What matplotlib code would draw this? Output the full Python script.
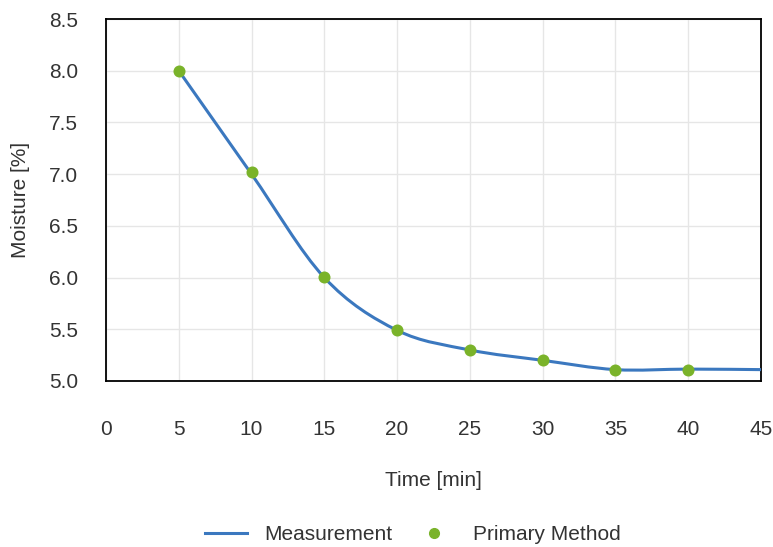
import numpy as np
import matplotlib
matplotlib.use("Agg")
import matplotlib.pyplot as plt
from matplotlib.path import Path
from matplotlib.patches import PathPatch
from matplotlib.lines import Line2D

plt.rcParams['font.family'] = ['Liberation Sans', 'DejaVu Sans']

# measurement curve (every 5 min)
meas_time = [5, 10, 15, 20, 25, 30, 35, 40, 45]
meas_moist = [8.0, 7.0, 6.0, 5.49, 5.30, 5.20, 5.11, 5.115, 5.11]
# primary method reference points
prim_time = [5, 10, 15, 20, 25, 30, 35, 40]
prim_moist = [8.0, 7.02, 6.01, 5.49, 5.30, 5.20, 5.11, 5.11]

blue = '#3B78BF'
green = '#7AB32A'
text_col = '#333333'
fs = 15


def smooth_path(xs, ys, t=0.5):
    # Catmull-Rom style bezier control points, like a spreadsheet "smoothed line"
    x = np.asarray(xs, float)
    y = np.asarray(ys, float)
    verts = [(x[0], y[0])]
    codes = [Path.MOVETO]
    n = len(x)
    for i in range(n - 1):
        x0, y0 = (x[i - 1], y[i - 1]) if i > 0 else (x[i], y[i])
        x3, y3 = (x[i + 2], y[i + 2]) if i + 2 < n else (x[i + 1], y[i + 1])
        c1 = (x[i] + (x[i + 1] - x0) * t / 3, y[i] + (y[i + 1] - y0) * t / 3)
        c2 = (x[i + 1] - (x3 - x[i]) * t / 3, y[i + 1] - (y3 - y[i]) * t / 3)
        verts += [c1, c2, (x[i + 1], y[i + 1])]
        codes += [Path.CURVE4] * 3
    return Path(verts, codes)


fig = plt.figure(figsize=(7.73, 5.47), dpi=100)
ax = fig.add_axes([106 / 773, 1 - 381 / 547, 655 / 773, 362 / 547])

ax.add_patch(PathPatch(smooth_path(meas_time, meas_moist), facecolor='none',
                       edgecolor=blue, lw=2.2, zorder=3))
ax.scatter(prim_time, prim_moist, s=75, color=green, zorder=4, linewidths=0)

ax.set_xlim(0, 45)
ax.set_ylim(5.0, 8.5)
ax.set_xticks(range(0, 46, 5))
ax.set_yticks(np.arange(5.0, 8.51, 0.5))
ax.set_yticklabels([f'{v:.1f}' for v in np.arange(5.0, 8.51, 0.5)])
ax.grid(True, color='#e6e6e6', lw=1)
ax.set_axisbelow(True)
for s in ax.spines.values():
    s.set_color('black')
    s.set_linewidth(1.3)
ax.tick_params(length=0, labelsize=fs, labelcolor=text_col)
ax.tick_params(axis='x', pad=28)
ax.tick_params(axis='y', pad=20)

ax.set_xlabel('Time [min]', fontsize=fs, color=text_col, labelpad=23)
ax.set_ylabel('Moisture [%]', fontsize=fs, color=text_col, labelpad=14)

handles = [Line2D([], [], color=blue, lw=2.2),
           Line2D([], [], color=green, marker='o', ls='none', markersize=7)]
fig.legend(handles, ['Measurement', 'Primary Method'], loc='center',
           bbox_to_anchor=(413 / 773, 1 - 535 / 547), ncol=2, frameon=False,
           fontsize=fs, labelcolor=text_col, handlelength=2.0, columnspacing=1.0,
           handletextpad=0.85)

fig.savefig('out.png', dpi=100)
